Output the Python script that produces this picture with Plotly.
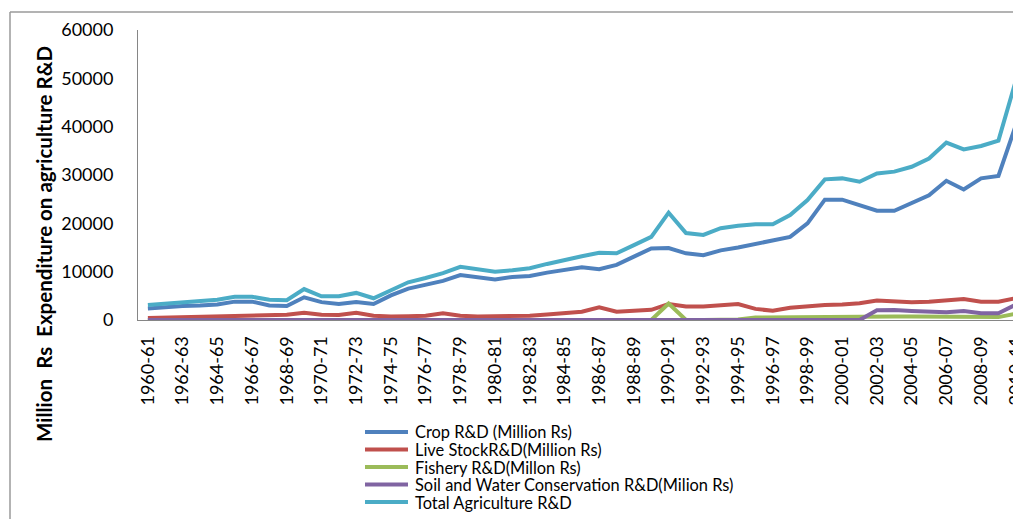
import plotly.graph_objects as go

years = ["1960-61","1961-62","1962-63","1963-64","1964-65","1965-66","1966-67","1967-68",
         "1968-69","1969-70","1970-71","1971-72","1972-73","1973-74","1974-75","1975-76",
         "1976-77","1977-78","1978-79","1979-80","1980-81","1981-82","1982-83","1983-84",
         "1984-85","1985-86","1986-87","1987-88","1988-89","1989-90","1990-91","1991-92",
         "1992-93","1993-94","1994-95","1995-96","1996-97","1997-98","1998-99","1999-00",
         "2000-01","2001-02","2002-03","2003-04","2004-05","2005-06","2006-07","2007-08",
         "2008-09","2009-10","2010-11"]

crop = [2400, 2700, 2900, 3000, 3200, 3800, 3800, 3000, 2900, 4700,
        3700, 3300, 3700, 3300, 5100, 6500, 7200, 8100, 9300, 8800,
        8400, 8900, 9100, 9800, 10300, 10900, 10500, 11400, 13100, 14800,
        14900, 13800, 13400, 14400, 15000, 15700, 16400, 17200, 20000, 24900,
        24900, 23800, 22600, 22600, 24100, 25800, 28800, 27000, 29300, 29800,
        40300]

livestock = [400, 500, 550, 650, 700, 900, 950, 950, 1100, 1500,
             1100, 1050, 1500, 900, 700, 800, 900, 1400, 900, 700,
             700, 700, 900, 1150, 1400, 1700, 2600, 1700, 1900, 2100,
             3300, 2800, 2800, 3100, 3300, 2300, 1900, 2550, 2900, 3100,
             3200, 3450, 4050, 3900, 3650, 3800, 4050, 4350, 3800, 3800,
             4500]

fishery = [0, 0, 0, 0, 0, 0, 0, 0, 0, 0,
           0, 0, 0, 0, 0, 0, 0, 0, 0, 0,
           0, 0, 0, 0, 0, 0, 0, 0, 0, 0,
           3400, 0, 0, 0, 100, 500, 550, 600, 600, 650,
           650, 700, 700, 700, 700, 700, 650, 600, 550, 600,
           1300]

soil = [0]*42 + [2000, 2050, 1850, 1750, 1600, 1850, 1400, 1400, 3200]

total = [3100, 3400, 3700, 3900, 4200, 4800, 4800, 4200, 4100, 6400,
         4900, 4900, 5600, 4500, 6100, 7800, 8700, 9700, 11000, 10400,
         10000, 10300, 10700, 11600, 12500, 13200, 13900, 13800, 15500, 17200,
         22200, 18000, 17600, 19000, 19500, 19800, 19800, 21700, 24800, 29100,
         29300, 28600, 30300, 30700, 31700, 33400, 36700, 35300, 36000, 37100,
         49500]

series_names = ["Crop R&D (Million Rs)", "Live StockR&D(Million Rs)", "Fishery R&D(Millon Rs)",
                "Soil and Water Conservation R&D(Milion Rs)", "Total Agriculture R&D"]
series_vals = [crop, livestock, fishery, soil, total]
colors = ["#4F81BD", "#C0504D", "#9BBB59", "#8064A2", "#4BACC6"]

yticks = [0, 10000, 20000, 30000, 40000, 50000, 60000]
y_title = "Million\u00a0 Rs\u00a0 Expenditure on agriculture R&D"

# page body has an 8px margin; work in page pixels and convert
OFF = 8
W, H = 1021 - OFF, 519 - OFF
L, T, R = 138 - OFF, 30 - OFF, 0
B = H - (320 - OFF)
pw, ph = W - L - R, H - T - B

def px(x):
    return (x - OFF - L) / pw

def py(y):
    return (H - B - (y - OFF)) / ph

fig = go.Figure()
for name, vals, col in zip(series_names, series_vals, colors):
    fig.add_trace(go.Scatter(x=years, y=vals, mode="lines", name=name,
                             line=dict(color=col, width=4), showlegend=False))

fig.update_layout(
    width=W, height=H,
    margin=dict(l=L, r=R, t=T, b=B, pad=0, autoexpand=False),
    paper_bgcolor="white", plot_bgcolor="white",
    font=dict(family="Lato", color="#000000"),
    showlegend=False,
    xaxis=dict(type="category", range=[-0.57, 50.3],
               tickvals=years[::2], ticktext=years[::2],
               tickangle=-90, tickfont=dict(size=18, family="Lato", color="#000000"),
               showgrid=False, zeroline=False, showline=True,
               linecolor="#868686", linewidth=1, ticks="", automargin=False,
               ticklabelstandoff=8),
    yaxis=dict(range=[0, 60000], tickvals=yticks, ticktext=[str(v) for v in yticks],
               tickfont=dict(size=18, family="Lato", color="#000000"),
               showgrid=False, zeroline=False, showline=True,
               linecolor="#868686", linewidth=1, ticks="",
               ticklabelstandoff=20, automargin=False),
)

fig.add_annotation(text="<b>" + y_title + "</b>", textangle=-90,
                   x=px(44), y=py(244), xref="paper", yref="paper",
                   xanchor="center", yanchor="middle",
                   showarrow=False, font=dict(size=20.5, family="Lato", color="#000000"))

# manual legend (Excel-like compact rows)
leg_rows = [432, 449.5, 467, 484.5, 502]
for name, col, ry in zip(series_names, colors, leg_rows):
    fig.add_shape(type="line", xref="paper", yref="paper",
                  x0=px(365), x1=px(408), y0=py(ry), y1=py(ry),
                  line=dict(color=col, width=4))
    fig.add_annotation(text=name, x=px(413), y=py(ry), xref="paper", yref="paper",
                       xanchor="left", yanchor="middle", showarrow=False,
                       font=dict(size=16.4, family="Lato", color="#000000"))

# outer chart frame (left and top edges visible)
fig.add_shape(type="line", xref="paper", yref="paper",
              x0=px(10), x1=px(10), y0=py(12), y1=py(519), line=dict(color="#9a9a9a", width=1.5))
fig.add_shape(type="line", xref="paper", yref="paper",
              x0=px(10), x1=px(1021), y0=py(12), y1=py(12), line=dict(color="#9a9a9a", width=1.5))

fig.write_html("out.html")
